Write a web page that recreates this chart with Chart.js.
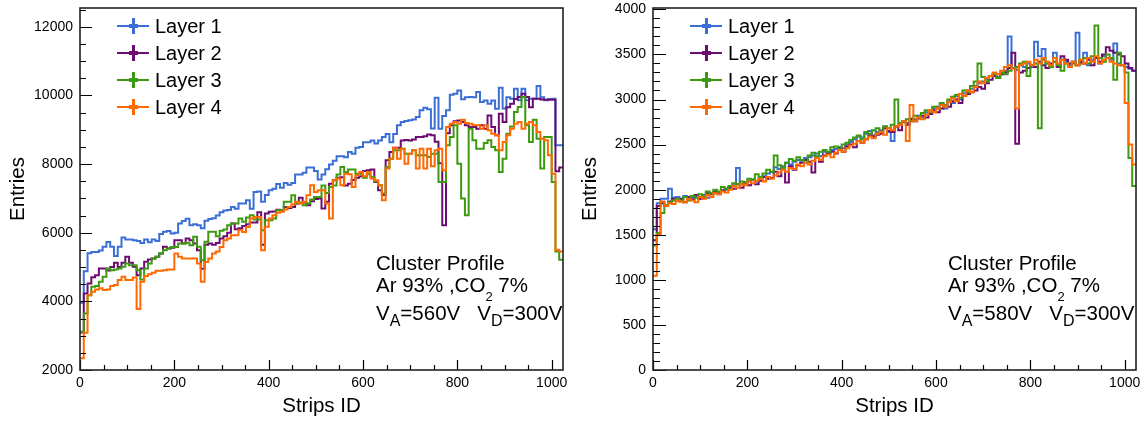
<!DOCTYPE html>
<html>
<head>
<meta charset="utf-8">
<script src="https://cdn.jsdelivr.net/npm/chart.js@4.4.1/dist/chart.umd.min.js"></script>
<style>
  html, body { margin: 0; padding: 0; background: #fff; }
  body { width: 1144px; height: 424px; position: relative; overflow: hidden;
         font-family: "Liberation Sans", Arial, Helvetica, sans-serif; color: #000; }
  .panel { position: absolute; top: 0; width: 572px; height: 424px; }
  .panel canvas { position: absolute; left: 0; top: 0; }
  .leg-line { position: absolute; height: 2px; }
  .leg-bar { position: absolute; width: 3px; height: 16px; }
  .leg-dot { position: absolute; width: 9px; height: 4px; }
  .leg-text { position: absolute; font-size: 20px; line-height: 20px; white-space: nowrap; }
  .note { position: absolute; font-size: 20.5px; line-height: 20.5px; white-space: nowrap; }
  .sub16 { font-size: 16px; position: relative; top: 6px; }
  .sub13 { font-size: 13px; position: relative; top: 9px; }
</style>
</head>
<body>
<div class="panel" id="p560" style="left:0">
  <canvas id="c560" width="572" height="424"></canvas>
</div>
<div class="panel" id="p580" style="left:572px">
  <canvas id="c580" width="572" height="424"></canvas>
</div>
<script>
// strip bins: 128 bins of 8 strips
const stripEdges = Array.from({ length: 129 }, (_, i) => i * 8);
const layerNames = ["Layer 1", "Layer 2", "Layer 3", "Layer 4"];
const layerColors = ["#3b6fd6", "#6c0c70", "#3d9a10", "#ff6a00"];

const xTickValues = [0, 200, 400, 600, 800, 1000];
const yTicks560 = [2000, 4000, 6000, 8000, 10000, 12000];
const yTicks580 = [0, 500, 1000, 1500, 2000, 2500, 3000, 3500, 4000];

// V_A = 560 V
const layer1_560 = [
  3960, 4880, 5400, 5440, 5440, 5480, 5590, 5730, 5590, 5320,
  5590, 5860, 5800, 5800, 5780, 5760, 5700, 5800, 5720, 5800,
  5760, 5960, 6030, 6050, 5980, 6000, 6270, 6340, 6410, 6220,
  6250, 6220, 6130, 6350, 6400, 6420, 6500, 6600, 6650, 6660,
  6750, 6700, 6850, 6850, 6950, 6700, 7190, 7200, 6900, 7100,
  7240, 7280, 7420, 7310, 7450, 7400, 7450, 7700, 7700, 7750,
  7900, 7900, 7800, 7550, 7700, 7850, 7990, 8100, 8230, 8230,
  8200, 8350, 8300, 8480, 8500, 8640, 8640, 8690, 8600, 8690,
  8790, 8880, 8640, 8880, 9130, 9226, 9260, 9275, 9300, 9370,
  9567, 9640, 9600, 9040, 9935, 9030, 9400, 9567, 10022, 10050,
  10148, 9890, 9950, 9955, 9950, 10100, 9810, 9857, 9760, 9857,
  9615, 10226, 9620, 9950, 9906, 10196, 9860, 10196, 9860, 9906,
  9906, 10274, 9950, 9860, 9900, 9906, 8550, 8550
];
const layer2_560 = [
  3090, 4230, 4520, 4700, 4765, 4960, 4960, 4900, 5000, 5123,
  5000, 5123, 5298, 5123, 5006, 4765, 4959, 5152, 5220, 5250,
  5298, 5395, 5590, 5540, 5560, 5783, 5783, 5686, 5832, 5783,
  5686, 5490, 4950, 5650, 5690, 5650, 5700, 5830, 5900, 6000,
  6270, 6100, 6130, 6200, 6250, 6300, 6300, 6600, 5650, 6560,
  6610, 6620, 6670, 6650, 6750, 6720, 6750, 6850, 7020, 6880,
  6800, 6920, 6980, 7000, 6705, 6900, 7430, 7530, 7600, 7620,
  7380, 7430, 7540, 7600, 7650, 7800, 7820, 7840, 7480, 7240,
  7100, 8110, 8354, 8480, 8480, 8690, 8700, 8690, 8720, 8790,
  8790, 8810, 8860, 8840, 8650, 8022, 6220, 8900, 9130, 9250,
  9270, 9230, 9130, 9080, 9080, 9030, 9130, 9030, 9420, 9080,
  8840, 9470, 9230, 9660, 9760, 9900, 9955, 10050, 9955, 9660,
  9906, 9906, 9880, 9877, 9877, 9877, 7790, 7900
];
const layer3_560 = [
  3115, 3650, 4182, 4425, 4450, 4571, 4716, 4959, 4910, 4930,
  4959, 5006, 5103, 5055, 5055, 4910, 4638, 4959, 5103, 5250,
  5300, 5394, 5490, 5540, 5588, 5588, 5685, 5685, 5705, 5637,
  5880, 5590, 5200, 5735, 6026, 6026, 5900, 6055, 6094, 6220,
  6269, 6269, 6414, 6317, 6443, 6511, 6385, 6385, 6075, 6366,
  6366, 6414, 6657, 6657, 6900, 6900, 7094, 6850, 6880, 6800,
  6850, 6968, 7044, 7044, 7380, 7160, 7335, 7380, 7700, 7917,
  7770, 7840, 7840, 7720, 7720, 7606, 7703, 7626, 7500, 7384,
  7141, 7917, 8160, 8402, 8402, 8450, 8305, 8305, 8402, 8257,
  8257, 8257, 8208, 8305, 8305, 7480, 7480, 8547, 8790, 9130,
  8014, 6995, 6510, 9033, 8693, 8450, 8450, 8615, 8693, 8500,
  8402, 7772, 8160, 8887, 9100, 9517, 9663, 9954, 9130, 8645,
  9294, 8742, 7869, 8790, 8790, 7480, 5457, 5215
];
const layer4_560 = [
  2340, 3086, 4182, 4280, 4347, 4380, 4330, 4347, 4450, 4474,
  4620, 4716, 4620, 4620, 4697, 3776, 4571, 4736, 4794, 4833,
  4891, 4891, 4910, 4930, 4930, 5394, 5297, 5250, 5250, 5250,
  5250, 5103, 4570, 5151, 5250, 5394, 5450, 5588, 5782, 5830,
  5927, 5927, 6074, 6025, 6170, 6413, 6462, 6462, 5490, 6172,
  6414, 6511, 6580, 6610, 6680, 6754, 6832, 6900, 6850, 6900,
  7094, 7384, 7190, 7238, 7238, 6850, 6413, 7529, 7578, 7384,
  7723, 7703, 7335, 7675, 7772, 7646, 7772, 7578, 7529, 7384,
  6947, 7869, 8160, 8480, 8160, 8450, 8014, 8305, 8402, 7869,
  8450, 7869, 8450, 7937, 8402, 8450, 7820, 9080, 9178, 9227,
  9178, 9294, 9197, 9178, 9130, 9130, 9033, 9130, 8984, 8887,
  8839, 8402, 8645, 8839, 9033, 9178, 9227, 9033, 9178, 9227,
  9130, 8936, 8742, 8693, 8257, 7723, 5506, 5457
];

// V_A = 580 V
const layer1_580 = [
  1560, 1850, 1900, 1900, 2010, 1910, 1920, 1890, 1930, 1900,
  1910, 1920, 1900, 1940, 1910, 1960, 1960, 1950, 1990, 2000,
  2010, 2050, 2240, 2060, 2080, 2100, 2110, 2090, 2130, 2150,
  2180, 2200, 2250, 2230, 2260, 2300, 2280, 2310, 2330, 2320,
  2350, 2360, 2380, 2400, 2370, 2420, 2410, 2440, 2450, 2470,
  2460, 2500, 2530, 2560, 2590, 2580, 2620, 2650, 2600, 2640,
  2660, 2700, 2640, 2540, 2700, 2720, 2760, 2740, 2790, 2780,
  2820, 2800, 2860, 2850, 2900, 2920, 2950, 2900, 2980, 2960,
  3040, 3000, 3070, 3100, 3120, 3150, 3180, 3200, 3220, 3260,
  3280, 3250, 3300, 3320, 3700, 3350, 3330, 3380, 3360, 3400,
  3360, 3640, 3480, 3560, 3400, 3380, 3520, 3360, 3440, 3420,
  3380, 3400, 3740, 3400, 3520, 3380, 3440, 3460, 3400, 3480,
  3460, 3440, 3620, 3400, 3380, 3360, 3340, 3320
];
const layer2_580 = [
  1440, 1820, 1850, 1820, 1870, 1900, 1880, 1900, 1860, 1920,
  1890, 1940, 1900, 1910, 1960, 1950, 1980, 1960, 1990, 2010,
  2030, 2010, 2060, 2020, 2080, 2050, 2110, 2060, 2100, 2140,
  2120, 2130, 2200, 2150, 2240, 2080, 2260, 2220, 2270, 2300,
  2330, 2310, 2190, 2360, 2310, 2380, 2400, 2420, 2400, 2460,
  2420, 2480, 2500, 2470, 2540, 2520, 2560, 2600, 2590, 2610,
  2620, 2680, 2650, 2640, 2700, 2660, 2750, 2720, 2780, 2760,
  2790, 2820, 2800, 2840, 2880, 2860, 2900, 2940, 2920, 2980,
  3000, 2960, 3040, 3060, 3080, 3100, 3140, 3120, 3180, 3220,
  3260, 3240, 3280, 3300, 3350, 3520, 2510, 3300, 3320, 3350,
  3380, 3360, 3420, 3380, 3350, 3400, 3420, 3360, 3480, 3440,
  3400, 3420, 3380, 3420, 3400, 3440, 3380, 3460, 3420, 3500,
  3580, 3540, 3520, 3500, 3480, 3400, 3350, 3320
];
const layer3_580 = [
  1380, 1520, 1740, 1830, 1860, 1880, 1900, 1870, 1920, 1880,
  1930, 1910, 1950, 1920, 1980, 1960, 2000, 1980, 2030, 2010,
  2040, 2070, 2060, 2090, 2080, 2120, 2110, 2170, 2140, 2180,
  2220, 2200, 2380, 2270, 2240, 2300, 2340, 2320, 2360, 2330,
  2300, 2380, 2410, 2370, 2420, 2440, 2420, 2470, 2480, 2450,
  2500, 2520, 2550, 2580, 2600, 2560, 2640, 2620, 2660, 2680,
  2640, 2700, 2680, 2720, 3000, 2740, 2760, 2780, 2760, 2820,
  2800, 2850, 2880, 2860, 2920, 2900, 2960, 2940, 3000, 3030,
  3050, 3020, 3100, 3080, 3150, 3200, 3400, 3250, 3200, 3260,
  3280, 3240, 3300, 3280, 3320, 3350, 3360, 3400, 3420, 3260,
  3380, 3400, 2680, 3440, 3400, 3360, 3420, 3380, 3320, 3400,
  3360, 3420, 3380, 3440, 3460, 3400, 3480, 3820, 3460, 3420,
  3500, 3460, 3220, 3520, 3380, 3300, 2350, 2040
];
const layer4_580 = [
  1045, 1500, 1870, 1820, 1850, 1840, 1880, 1870, 1860, 1900,
  1880, 1860, 1920, 1900, 1940, 1920, 1960, 1950, 1980, 1970,
  2000, 2040, 2020, 2060, 2050, 2090, 2070, 2100, 2120, 2090,
  2140, 2120, 2160, 2190, 2220, 2200, 2240, 2230, 2280, 2260,
  2300, 2280, 2320, 2350, 2330, 2370, 2390, 2360, 2410, 2440,
  2420, 2460, 2490, 2510, 2540, 2520, 2560, 2590, 2570, 2620,
  2640, 2610, 2680, 2660, 2700, 2720, 2760, 2540, 2940, 2760,
  2800, 2780, 2830, 2880, 2860, 2900, 2940, 2920, 2970, 3010,
  2980, 3060, 3040, 3100, 3080, 3140, 3200, 3180, 3240, 3260,
  3300, 3280, 3320, 3360, 3380, 3340, 2900, 3380, 3400, 3420,
  3380, 3440, 3400, 3460, 3420, 3380, 3460, 3400, 3440, 3400,
  3360, 3420, 3380, 3440, 3400, 3460, 3420, 3480, 3400, 3440,
  3460, 3420, 3400, 3380, 3380, 2960, 2500, 2280
];

const FONT = "'Liberation Sans', Arial, Helvetica, sans-serif";
Chart.defaults.font.family = FONT;
Chart.defaults.color = "#000";

function histPoints(vals) {
  const pts = vals.map((v, i) => ({ x: stripEdges[i], y: v }));
  pts.push({ x: stripEdges[vals.length], y: vals[vals.length - 1] });
  return pts;
}

// ROOT style: ticks drawn inside the frame + closed frame
const innerTicks = {
  id: "innerTicks",
  afterDatasetsDraw(chart, args, o) {
    const { ctx, chartArea: a, scales: { x, y } } = chart;
    ctx.save();
    ctx.strokeStyle = "#000";
    ctx.lineWidth = 1.2;
    ctx.beginPath();
    for (let v = 0; v <= x.max; v += o.xMinor) {
      const px = Math.round(x.getPixelForValue(v)) + 0.5;
      const len = v % o.xMajor === 0 ? o.xMajorLen : o.xMinorLen;
      ctx.moveTo(px, a.bottom);
      ctx.lineTo(px, a.bottom - len);
    }
    for (let v = y.min; v <= y.max; v += o.yMinor) {
      const py = Math.round(y.getPixelForValue(v)) + 0.5;
      const len = (v - y.min) % o.yMajor === 0 ? o.yMajorLen : o.yMinorLen;
      ctx.moveTo(a.left, py);
      ctx.lineTo(a.left + len, py);
    }
    ctx.stroke();
    ctx.lineWidth = 1.6;
    ctx.strokeStyle = "#222";
    ctx.strokeRect(a.left, a.top, a.right - a.left, a.bottom - a.top);
    ctx.restore();
  }
};

function makePanel(canvasId, series, cfg) {
  const datasets = series.map((vals, i) => ({
    label: layerNames[i],
    data: histPoints(vals),
    borderColor: layerColors[i],
    borderWidth: 2,
    pointRadius: 0,
    stepped: "before",
    fill: false,
    order: 4 - i
  }));

  return new Chart(document.getElementById(canvasId), {
    type: "line",
    data: { datasets },
    plugins: [innerTicks],
    options: {
      responsive: false,
      animation: false,
      layout: { padding: { top: 8, right: cfg.padRight, bottom: 0, left: 0 } },
      plugins: {
        legend: { display: false },
        tooltip: { enabled: false },
        innerTicks: cfg.ticks
      },
      scales: {
        x: {
          type: "linear",
          min: 0,
          max: 1024,
          grid: { display: false, drawTicks: false },
          border: { display: false },
          afterBuildTicks: (s) => { s.ticks = xTickValues.map((v) => ({ value: v })); },
          afterFit: (s) => { s.height = 54; s.paddingLeft = 0; s.paddingRight = 0; },
          ticks: { font: { size: 14 }, padding: 5, maxRotation: 0, callback: (v) => String(v) },
          title: { display: true, text: "Strips ID", font: { size: 20.5 }, padding: { top: 0, bottom: 5 } }
        },
        y: {
          type: "linear",
          min: cfg.yMin,
          max: cfg.yMax,
          grid: { display: false, drawTicks: false },
          border: { display: false },
          afterBuildTicks: (s) => { s.ticks = cfg.yTicks.map((v) => ({ value: v })); },
          afterFit: (s) => { s.width = cfg.yAxisWidth; s.paddingTop = 0; s.paddingBottom = 0; },
          ticks: { font: { size: 14 }, padding: 7, callback: (v) => String(v) },
          title: { display: true, text: "Entries", font: { size: 20.5 }, padding: { top: 6, bottom: 0 } }
        }
      }
    }
  });
}

function addLegend(panelId, left) {
  const panel = document.getElementById(panelId);
  layerNames.forEach((name, i) => {
    const cy = 26 + i * 27;
    const line = document.createElement("div");
    line.className = "leg-line";
    line.style.cssText = `left:${left}px;top:${cy - 1}px;width:32px;background:${layerColors[i]}`;
    const bar = document.createElement("div");
    bar.className = "leg-bar";
    bar.style.cssText = `left:${left + 15}px;top:${cy - 8}px;background:${layerColors[i]}`;
    const dot = document.createElement("div");
    dot.className = "leg-dot";
    dot.style.cssText = `left:${left + 12}px;top:${cy - 2}px;background:${layerColors[i]}`;
    const txt = document.createElement("div");
    txt.className = "leg-text";
    txt.style.cssText = `left:${left + 38}px;top:${cy - 10}px`;
    txt.textContent = name;
    panel.append(line, bar, dot, txt);
  });
}

function addNote(panelId, left, anodeV) {
  const panel = document.getElementById(panelId);
  const lines = [
    "Cluster Profile",
    'Ar 93% ,CO<span class="sub13">2</span> 7%',
    `V<span class="sub16">A</span>=${anodeV}V&nbsp;&nbsp;&nbsp;V<span class="sub16">D</span>=300V`
  ];
  const tops = [252.6, 274.6, 303.3];
  lines.forEach((html, i) => {
    const d = document.createElement("div");
    d.className = "note";
    d.style.left = left + "px";
    d.style.top = tops[i] + "px";
    d.innerHTML = html;
    panel.appendChild(d);
  });
}

makePanel("c560", [layer1_560, layer2_560, layer3_560, layer4_560], {
  yMin: 2000, yMax: 12550, yTicks: yTicks560, yAxisWidth: 80, padRight: 9,
  ticks: { xMajor: 200, xMinor: 50, xMajorLen: 10, xMinorLen: 5, yMajor: 2000, yMinor: 500, yMajorLen: 12, yMinorLen: 6 }
});
makePanel("c580", [layer1_580, layer2_580, layer3_580, layer4_580], {
  yMin: 0, yMax: 4015, yTicks: yTicks580, yAxisWidth: 81, padRight: 8,
  ticks: { xMajor: 200, xMinor: 50, xMajorLen: 10, xMinorLen: 5, yMajor: 500, yMinor: 100, yMajorLen: 13, yMinorLen: 7 }
});

addLegend("p560", 117);
addLegend("p580", 118);
addNote("p560", 376, 560);
addNote("p580", 376, 580);
</script>
</body>
</html>
